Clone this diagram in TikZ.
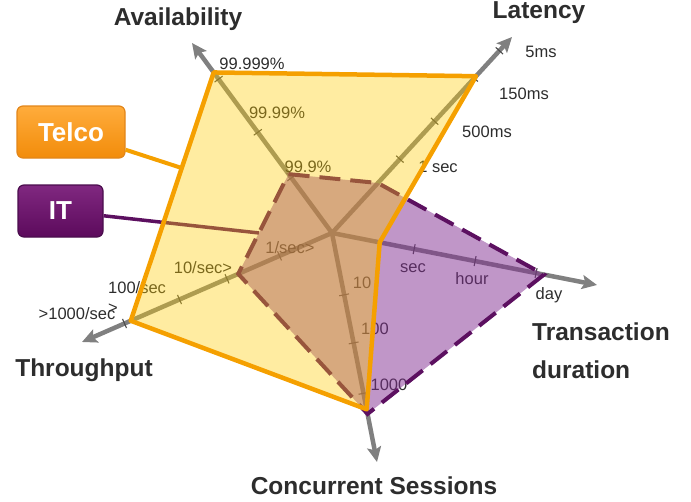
\documentclass[tikz,border=0pt]{standalone}
\usepackage{fontspec}
\setmainfont{Liberation Sans}
\usetikzlibrary{calc,arrows.meta}

\definecolor{telcoorange}{RGB}{245,160,0}
\definecolor{telcotop}{RGB}{255,172,60}
\definecolor{telcobot}{RGB}{242,140,10}
\definecolor{telcoedge}{RGB}{226,134,26}
\definecolor{gold}{RGB}{255,204,0}
\definecolor{itfill}{RGB}{129,45,145}
\definecolor{itline}{RGB}{92,16,96}
\definecolor{ittop}{RGB}{128,40,128}
\definecolor{itbot}{RGB}{92,10,92}
\definecolor{axisgray}{RGB}{128,128,128}
\definecolor{labelgray}{RGB}{45,45,45}

\begin{document}
\begin{tikzpicture}[x=1pt,y=-1pt,
  axis/.style={draw=axisgray,line width=4.5pt,-{Stealth[length=15pt,width=14pt,inset=3pt]}},
  tickmark/.style={draw=labelgray!85,line width=1.1pt},
  val/.style={font=\fontsize{16.5}{20}\selectfont,text=labelgray,inner sep=0pt},
  title/.style={font=\fontsize{24.5}{28}\selectfont\bfseries,text=labelgray,inner sep=0pt},
  legend/.style={rounded corners=6pt,font=\fontsize{26}{30}\selectfont\bfseries,text=white,line width=1.2pt,minimum height=52pt,inner sep=0pt},
  itpoly/.style={draw=itline,line width=4pt,dash pattern=on 21pt off 10pt,fill=itfill,fill opacity=0.5},
  telcopoly/.style={draw=telcoorange,line width=4.5pt,line join=round,fill=gold,fill opacity=0.37}]

\useasboundingbox (0,0) rectangle (691,501);

% centre and axis ends
\coordinate (c) at (332,233);
\coordinate (avail) at (192,43);
\coordinate (lat) at (512,37);
\coordinate (trans) at (597,285);
\coordinate (sess) at (377,462);
\coordinate (thru) at (82,342);

\foreach \t in {avail,lat,trans,sess,thru}{
\draw[axis] (c) -- (\t);
}

\foreach \t/\f in {avail/0.29, avail/0.53, avail/0.81, lat/0.377, lat/0.57, lat/0.79, lat/0.93,
  trans/0.31, trans/0.54, trans/0.77, sess/0.27, sess/0.48, sess/0.70,
  thru/0.21, thru/0.42, thru/0.61, thru/0.83}{
\draw[tickmark] ($(c)!\f!(\t)!5pt!90:(\t)$) -- ($(c)!\f!(\t)!5pt!-90:(\t)$);
}

% scale values
\node[val] (a3) at (308,167) {99.9\%};
\node[val] (a4) at (277,113) {99.99\%};
\node[val] (a5) at (252,64) {99.999\%};
\node[val] (l1) at (438,167) {1 sec};
\node[val] (l2) at (487,132) {500ms};
\node[val] (l3) at (524,94) {150ms};
\node[val] (l4) at (541,52) {5ms};
\node[val] (t1) at (413,268) {sec};
\node[val] (t2) at (472,279) {hour};
\node[val] (t3) at (549,295) {day};
\node[val] (s1) at (362,283) {10};
\node[val] (s2) at (375,329) {100};
\node[val] (s3) at (389,385) {1000};
\node[val] (h1) at (290,248) {1/sec>};
\node[val] (h2) at (203,268) {10/sec>};
\node[val,anchor=north west,align=left] (h3) at (108,281) {100/sec\\>};
\node[val] (h4) at (77,314) {>1000/sec};

% IT profile
\coordinate (ia) at ($(c)!0.31!(avail)$);
\coordinate (il) at ($(c)!0.255!(lat)$);
\coordinate (it) at ($(c)!0.80!(trans)$);
\coordinate (is) at ($(c)!0.79!(sess)$);
\coordinate (ih) at ($(c)!0.375!(thru)$);
\coordinate (itend) at ($(ia)!0.59!(ih)$);

% Telco profile
\coordinate (ta) at ($(c)!0.845!(avail)$);
\coordinate (tl) at ($(c)!0.80!(lat)$);
\coordinate (tt) at ($(c)!0.18!(trans)$);
\coordinate (ts) at ($(c)!0.77!(sess)$);
\coordinate (th) at ($(c)!0.805!(thru)$);
\coordinate (telcoend) at ($(ta)!0.385!(th)$);

\node[legend,top color=telcotop,bottom color=telcobot,draw=telcoedge,minimum width=108pt] (telco) at (71,132) {Telco};
\node[legend,top color=ittop,bottom color=itbot,draw=itline!80!black,minimum width=85pt] (itbox) at (60.5,211) {IT};

\draw[itline,line width=3.5pt] (itend) -- (itbox);
\draw[telcoorange,line width=4pt] (telcoend) -- (telco);

\draw[itpoly] (ia) -- (il) -- (it) -- (is) -- (ih) -- cycle;
\draw[telcopoly] (ta) -- (tl) -- (tt) -- (ts) -- (th) -- cycle;

% axis titles
\node[title] (availt) at (178,19) {Availability};
\node[title] (latt) at (539,13) {Latency};
\node[title,anchor=west] (transt) at (532,332) {Transaction};
\node[title,anchor=west] (durt) at (532,370) {duration};
\node[title] (thrut) at (84,370) {Throughput};
\node[title] (sesst) at (374,486) {Concurrent Sessions};

\end{tikzpicture}
\end{document}
